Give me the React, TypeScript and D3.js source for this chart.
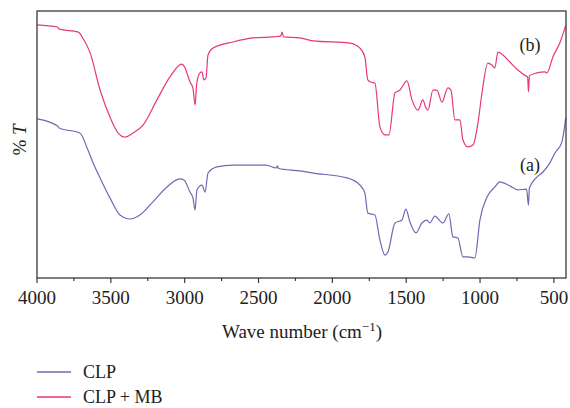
import * as d3 from "d3";
import React, { useEffect, useRef } from "react";

// wave number (cm^-1), %T (arbitrary offset units)
const clpMbWave = [4000, 3860, 3850, 3720, 3690, 3640, 3573, 3506, 3450, 3404, 3350, 3282, 3188, 3100, 3020, 3000, 2964, 2944, 2930, 2918, 2897, 2883, 2870, 2856, 2842, 2808, 2673, 2538, 2402, 2350, 2340, 2330, 2220, 2130, 1881, 1813, 1780, 1760, 1740, 1712, 1678, 1644, 1617, 1576, 1542, 1495, 1461, 1420, 1387, 1367, 1353, 1319, 1292, 1258, 1218, 1197, 1170, 1136, 1116, 1082, 1048, 1014, 987, 947, 920, 900, 879, 845, 798, 744, 690, 678, 672, 666, 615, 561, 547, 507, 460, 420];
const clpMbT = [94.8, 94.0, 93.2, 92.1, 89.9, 84.3, 70.4, 60.3, 54.3, 52.8, 54.3, 57.3, 66.7, 75.3, 80.1, 79.0, 73.4, 71.2, 64.8, 73.0, 76.8, 77.2, 74.2, 74.9, 83.5, 86.1, 88.4, 89.9, 90.3, 90.6, 92.1, 90.3, 89.9, 88.8, 88.0, 86.1, 82.8, 74.2, 73.4, 73.0, 56.6, 53.6, 53.6, 69.3, 70.4, 73.8, 66.7, 62.9, 66.7, 63.7, 62.9, 70.4, 70.4, 65.9, 71.2, 70.4, 59.2, 59.2, 51.7, 49.1, 49.8, 58.1, 69.3, 80.5, 79.8, 78.7, 84.6, 83.5, 80.9, 77.9, 75.7, 75.3, 69.7, 75.7, 76.8, 77.2, 76.8, 82.8, 88.0, 94.5];

const clpWave = [4000, 3860, 3850, 3710, 3655, 3620, 3573, 3506, 3438, 3370, 3303, 3215, 3120, 3032, 3005, 2964, 2944, 2930, 2917, 2883, 2862, 2842, 2782, 2673, 2450, 2380, 2372, 2365, 2220, 2130, 1901, 1813, 1780, 1760, 1712, 1678, 1644, 1624, 1576, 1529, 1502, 1475, 1434, 1394, 1360, 1340, 1306, 1251, 1211, 1184, 1150, 1116, 1082, 1035, 1001, 953, 900, 866, 798, 744, 685, 672, 666, 615, 574, 527, 493, 446, 420];
const clpT = [59.6, 56.9, 56.2, 54.3, 47.9, 43.1, 37.5, 30.0, 23.6, 22.1, 23.6, 28.5, 34.1, 37.1, 36.7, 32.2, 30.0, 25.5, 33.0, 34.8, 32.2, 39.3, 41.6, 42.3, 42.3, 41.2, 42.0, 41.0, 40.1, 39.3, 37.5, 34.8, 31.8, 24.3, 23.6, 14.2, 8.6, 9.7, 20.6, 21.7, 25.8, 21.0, 16.9, 20.6, 21.7, 20.6, 23.2, 20.6, 24.0, 15.4, 15.0, 7.9, 7.9, 7.5, 21.7, 30.3, 34.1, 36.0, 34.5, 33.0, 33.3, 27.3, 33.7, 37.8, 39.7, 43.1, 46.8, 50.9, 59.9];

const majorTicks = [4000, 3500, 3000, 2500, 2000, 1500, 1000, 500];
const minorTicks = [3750, 3250, 2750, 2250, 1750, 1250, 750];

const seriesNames = ["CLP", "CLP + MB"];
const seriesColors = ["#7466b4", "#e8367f"];
const seriesTags = ["(a)", "(b)"];

export default function App() {
  const ref = useRef<SVGSVGElement>(null);

  useEffect(() => {
    const width = 570;
    const height = 408;
    const m = { left: 37, right: 566, top: 11, bottom: 278 };
    const font = "'Liberation Serif', 'Times New Roman', serif";

    const svg = d3.select(ref.current);
    svg.selectAll("*").remove();
    svg.attr("width", width).attr("height", height);

    const x = d3.scaleLinear().domain([4000, 418]).range([m.left, m.right]);
    const y = d3.scaleLinear().domain([0, 100]).range([m.bottom, m.top]);

    const line = d3
      .line<[number, number]>()
      .x((d) => x(d[0]))
      .y((d) => y(d[1]))
      .curve(d3.curveMonotoneX);

    const series: [number, number][][] = [
      clpWave.map((w, i) => [w, clpT[i]]),
      clpMbWave.map((w, i) => [w, clpMbT[i]]),
    ];

    series.forEach((s, i) => {
      svg
        .append("path")
        .attr("d", line(s))
        .attr("fill", "none")
        .attr("stroke", seriesColors[i])
        .attr("stroke-width", 1.2)
        .attr("stroke-linejoin", "round");
    });

    // frame
    svg
      .append("rect")
      .attr("x", m.left)
      .attr("y", m.top)
      .attr("width", m.right - m.left)
      .attr("height", m.bottom - m.top)
      .attr("fill", "none")
      .attr("stroke", "#3a3a3a")
      .attr("stroke-width", 1.3);

    // ticks
    const tg = svg.append("g").attr("stroke", "#3a3a3a").attr("stroke-width", 1.2);
    majorTicks.forEach((t) => {
      tg.append("line").attr("x1", x(t)).attr("x2", x(t)).attr("y1", m.bottom).attr("y2", m.bottom + 5);
    });
    minorTicks.forEach((t) => {
      tg.append("line").attr("x1", x(t)).attr("x2", x(t)).attr("y1", m.bottom).attr("y2", m.bottom + 3);
    });
    majorTicks.forEach((t) => {
      svg
        .append("text")
        .attr("x", x(t))
        .attr("y", 304)
        .attr("text-anchor", "middle")
        .style("font-family", font)
        .style("font-size", "19px")
        .attr("fill", "#222")
        .text(t);
    });

    // axis titles
    const xt = svg
      .append("text")
      .attr("x", 302)
      .attr("y", 338)
      .attr("text-anchor", "middle")
      .style("font-family", font)
      .style("font-size", "19px")
      .attr("fill", "#222");
    xt.append("tspan").text("Wave number (cm");
    xt.append("tspan").attr("dy", -7).style("font-size", "13px").text("\u22121");
    xt.append("tspan").attr("dy", 7).text(")");

    const yt = svg
      .append("text")
      .attr("transform", "translate(26,140) rotate(-90)")
      .attr("text-anchor", "middle")
      .style("font-family", font)
      .style("font-size", "19px")
      .attr("fill", "#222");
    yt.append("tspan").text("% ");
    yt.append("tspan").style("font-style", "italic").text("T");

    // curve tags
    svg
      .append("text")
      .attr("x", 530)
      .attr("y", 51)
      .attr("text-anchor", "middle")
      .style("font-family", font)
      .style("font-size", "18px")
      .attr("fill", "#222")
      .text(seriesTags[1]);
    svg
      .append("text")
      .attr("x", 530)
      .attr("y", 171)
      .attr("text-anchor", "middle")
      .style("font-family", font)
      .style("font-size", "18px")
      .attr("fill", "#222")
      .text(seriesTags[0]);

    // legend
    seriesNames.forEach((name, i) => {
      const ly = 372 + i * 25;
      svg
        .append("line")
        .attr("x1", 37)
        .attr("x2", 71)
        .attr("y1", ly)
        .attr("y2", ly)
        .attr("stroke", seriesColors[i])
        .attr("stroke-width", 1.5);
      svg
        .append("text")
        .attr("x", 83)
        .attr("y", ly + 6)
        .style("font-family", font)
        .style("font-size", "18px")
        .attr("fill", "#222")
        .text(name);
    });
  }, []);

  return (
    <svg
      ref={ref}
      style={{ position: "absolute", left: 0, top: 0, display: "block", background: "#fff" }}
    />
  );
}
